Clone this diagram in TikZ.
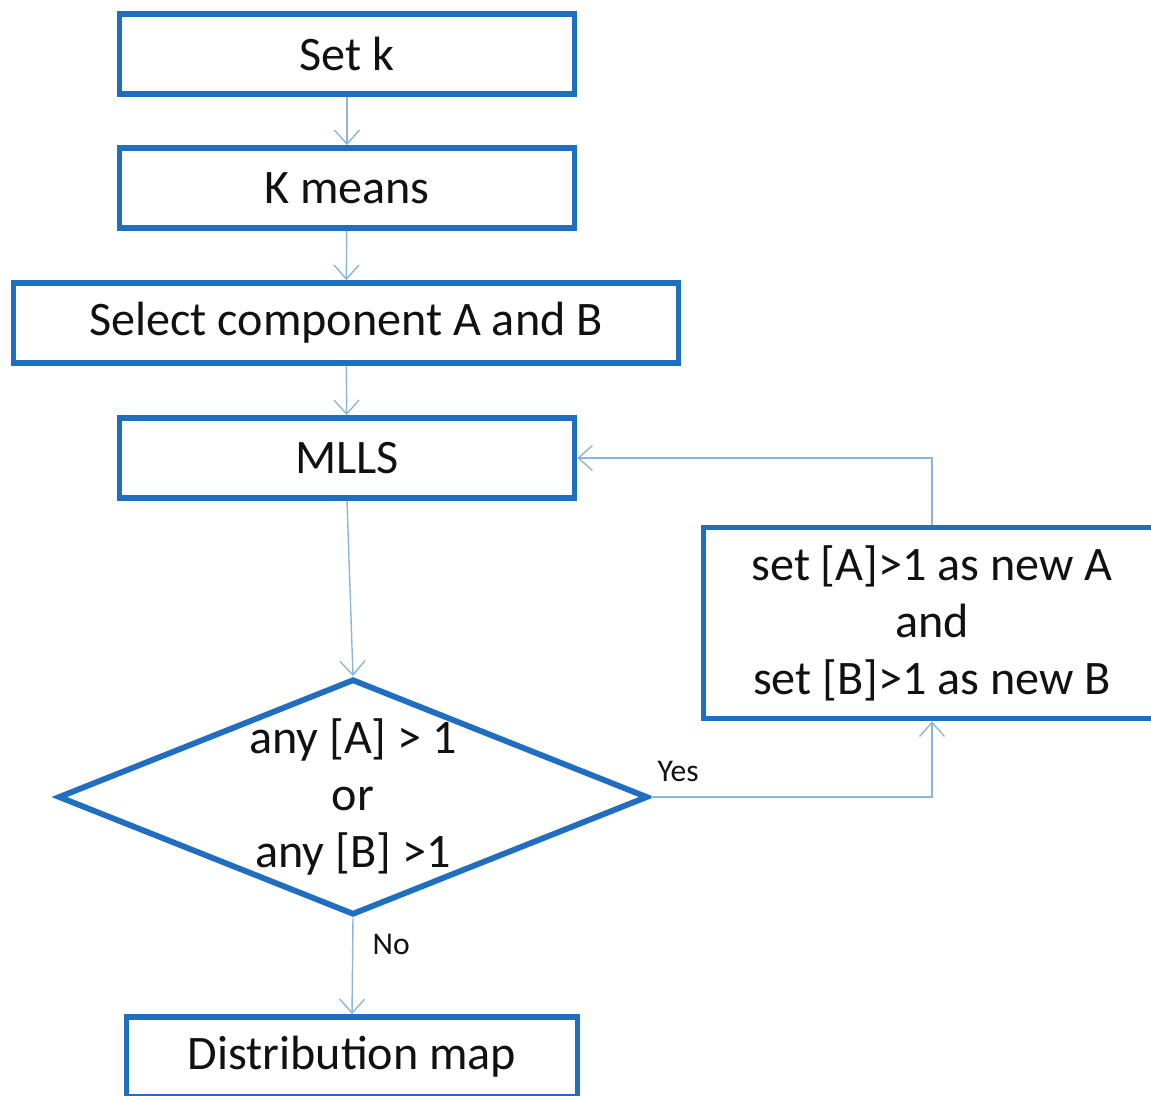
\documentclass[tikz,border=0pt]{standalone}
\usepackage{fontspec}
\setmainfont{Carlito}
\usetikzlibrary{arrows.meta,shapes.geometric}
\definecolor{cbox}{HTML}{1F6EBF}
\definecolor{cwire}{HTML}{8FB4DA}
\definecolor{cink}{HTML}{111111}

\begin{document}
\begin{tikzpicture}[
    x=0.02cm, y=-0.02cm,
    >={Straight Barb[length=2.8mm,width=5mm]},
    sig/.style={->, line width=0.8pt, draw=cwire},
    blk/.style={draw=cbox, line width=3.3pt, align=center, text=cink,
                minimum width=9.1cm, minimum height=1.6cm, inner sep=0pt,
                font=\fontsize{27.4}{32.4}\selectfont},
    % the text runs up to the edges, so only the minimum size counts
    dec/.style={blk, diamond, shape aspect=2.5, inner sep=-1cm,
                minimum width=11.8cm, minimum height=4.72cm},
    lbl/.style={text=cink, inner sep=0pt, font=\fontsize{18}{20}\selectfont},
  ]
  % same canvas as the reference, boxes at the right and bottom run off it
  \path[use as bounding box] (0,0) rectangle (1151,1095);
  % == main column
  \node[blk] (setk) at (347,54) {Set k};
  \node[blk] (km) at (347,188) {K means};
  \node[blk, minimum width=13.3cm] (sel) at (346,323) {Select component A and B};
  \node[blk] (mlls) at (347,458) {MLLS};
  \node[dec] (dec) at (353,797)
    {any [A] > 1\\or\\any [B] >1};
  \node[blk, minimum width=9.02cm] (dist) at (352,1057) {Distribution map};
  % == update box on the loop
  \node[blk, minimum width=9.14cm, minimum height=3.82cm] (upd) at (932,623)
    {set [A]>1 as new A\\and\\set [B]>1 as new B};
  % connectors down the column
  \draw[sig] (setk) -- (km);
  \draw[sig] (km) -- (sel);
  \draw[sig] (sel) -- (mlls);
  \draw[sig] (mlls.south) -- (dec.north);
  \draw[sig] (dec.south) -- (dist.north)
    node[lbl, pos=0, anchor=north west, xshift=3.8mm, yshift=-3.2mm] {No};
  % the loop back to MLLS
  \draw[sig] (dec.east) -| (upd.south)
    node[lbl, pos=0, anchor=south west, xshift=1.2mm, yshift=3mm] {Yes};
  \draw[sig] (upd.north) |- (mlls.east);
\end{tikzpicture}
\end{document}
